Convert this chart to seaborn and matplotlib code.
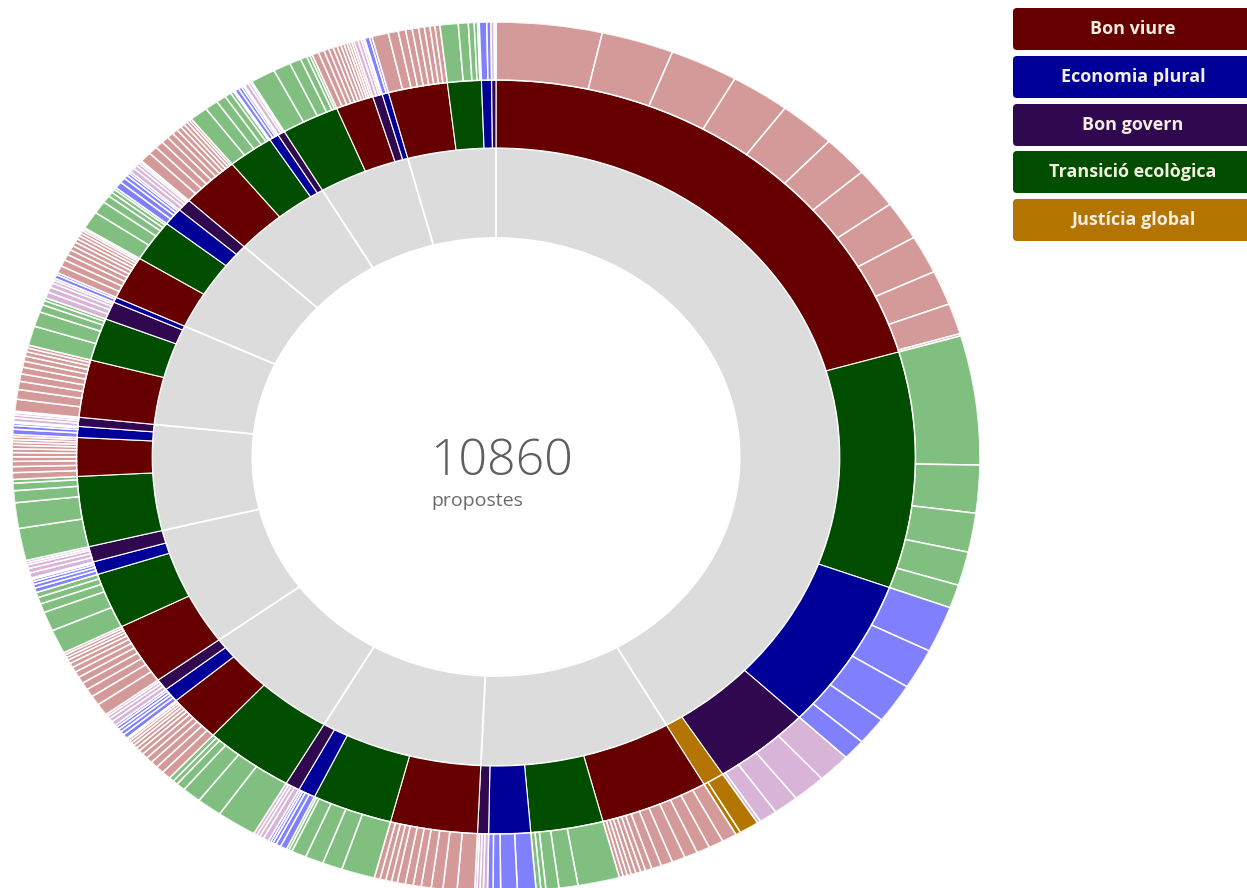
import numpy as np
import matplotlib
matplotlib.use("Agg")
import matplotlib.pyplot as plt
from matplotlib.patches import FancyBboxPatch
import seaborn as sns

# ---------------- data ----------------
TOTAL_LABEL = "10860"
SUBTITLE = "propostes"

categories = ["Bon viure", "Economia plural", "Bon govern",
              "Transició ecològica", "Justícia global"]
dark_colors = ["#660000", "#000099", "#300850", "#004d00", "#b37400"]
light_colors = ["#d49a9a", "#8080ff", "#d8b4d8", "#80bf80", "#b37400"]

# each inner (grey) segment: category -> proposal counts of its outer sub-slices
group_01 = {
    "Bon viure": [383, 262, 247, 214, 205, 169, 163, 157, 154, 139, 124, 9],
    "Transició ecològica": [520, 192, 157, 136, 94],
    "Economia plural": [187, 163, 160, 112, 84],
    "Bon govern": [121, 120, 91, 66, 12],
    "Justícia global": [72, 18],
}
group_02 = {
    "Bon viure": [54, 54, 48, 48, 48, 42, 36, 24, 18, 18, 17, 15, 15, 14],
    "Transició ecològica": [151, 69, 47, 18, 17],
    "Economia plural": [67, 60, 27, 20],
    "Bon govern": [15, 12, 11, 8],
}
group_03 = {
    "Bon viure": [63, 51, 42, 36, 29, 29, 29, 21, 21, 21, 21],
    "Transició ecològica": [121, 72, 66, 54, 12, 9],
    "Economia plural": [24, 18, 12, 9, 9],
    "Bon govern": [21, 15, 12, 12],
}
group_04 = {
    "Transició ecològica": [145, 91, 69, 33, 18, 18],
    "Bon viure": [33, 30, 27, 24, 21, 18, 15, 14, 12, 11, 9, 6],
    "Economia plural": [18, 15, 12, 12, 9],
    "Bon govern": [18, 15, 12, 9],
}
group_05 = {
    "Bon viure": [48, 39, 33, 30, 27, 24, 21, 18, 15, 12, 12, 9],
    "Transició ecològica": [97, 78, 36, 27, 21],
    "Economia plural": [18, 15, 12, 9, 6],
    "Bon govern": [21, 18, 15, 9, 9],
}
group_06 = {
    "Transició ecològica": [130, 103, 48, 30, 15],
    "Bon viure": [27, 24, 21, 18, 17, 15, 14, 12, 11, 11, 9],
    "Economia plural": [21, 15, 9, 6],
    "Bon govern": [15, 12, 9, 6],
}
group_07 = {
    "Bon viure": [48, 39, 33, 30, 27, 24, 21, 18, 15, 12],
    "Transició ecològica": [78, 60, 30, 18, 12],
    "Bon govern": [24, 21, 18, 12, 9],
    "Economia plural": [15, 9],
}
group_08 = {
    "Bon viure": [30, 27, 24, 21, 18, 17, 15, 14, 12, 11, 8, 6],
    "Transició ecològica": [72, 51, 30, 18, 15, 9],
    "Economia plural": [27, 21, 15, 11, 8],
    "Bon govern": [18, 15, 12, 8, 5],
}
group_09 = {
    "Bon viure": [42, 33, 30, 27, 24, 21, 18, 15, 14, 11, 9],
    "Transició ecològica": [66, 48, 36, 24, 12, 6],
    "Economia plural": [15, 12, 8, 5],
    "Bon govern": [15, 9, 6],
}
group_10 = {
    "Transició ecològica": [91, 63, 42, 24, 12, 9],
    "Bon viure": [24, 21, 18, 17, 15, 14, 12, 11, 9, 9, 8],
    "Bon govern": [15, 12, 8, 5],
    "Economia plural": [18, 9],
}
group_11 = {
    "Bon viure": [60, 36, 27, 24, 23, 21, 20, 18, 18],
    "Transició ecològica": [66, 36, 21, 12, 6],
    "Economia plural": [27, 15],
    "Bon govern": [12, 6],
}
groups = [group_01, group_02, group_03, group_04, group_05, group_06,
          group_07, group_08, group_09, group_10, group_11]

# ---------------- style ----------------
sns.set_theme(style="white")
plt.rcParams["font.family"] = ["Open Sans", "DejaVu Sans"]

dark_map = dict(zip(categories, dark_colors))
light_map = dict(zip(categories, light_colors))

W, H = 1247, 888
fig = plt.figure(figsize=(W / 100, H / 100), dpi=100)
fig.patch.set_facecolor("white")

ax = fig.add_axes([12 / W, -4 / H, 968 / W, 870 / H], projection="polar")
ax.set_aspect("auto")
ax.set_theta_zero_location("N")
ax.set_theta_direction(-1)

R0, R1, R2, R3 = 219, 309, 377, 435

grand_total = sum(sum(sum(v) for v in g.values()) for g in groups)
scale = 2 * np.pi / grand_total

inner_t, inner_w = [], []
mid_t, mid_w, mid_c = [], [], []
out_t, out_w, out_c = [], [], []
pos = 0
for g in groups:
    gstart = pos
    for cat, subs in g.items():
        cstart = pos
        for v in subs:
            out_t.append(pos * scale)
            out_w.append(v * scale)
            out_c.append(light_map[cat])
            pos += v
        mid_t.append(cstart * scale)
        mid_w.append((pos - cstart) * scale)
        mid_c.append(dark_map[cat])
    inner_t.append(gstart * scale)
    inner_w.append((pos - gstart) * scale)

ax.bar(inner_t, R1 - R0, width=inner_w, bottom=R0, align="edge",
       color="#dcdcdc", edgecolor="white", linewidth=1.3)
ax.bar(mid_t, R2 - R1, width=mid_w, bottom=R1, align="edge",
       color=mid_c, edgecolor="white", linewidth=0.8)
ax.bar(out_t, R3 - R2, width=out_w, bottom=R2, align="edge",
       color=out_c, edgecolor="white", linewidth=1.1)

ax.set_ylim(0, R3)
ax.set_axis_off()

# centre labels
fig.text(430 / W, 1 - 475 / H, TOTAL_LABEL, ha="left", va="baseline",
         fontsize=36, color="#5e5e5e", fontweight="light")
fig.text(431 / W, 1 - 506 / H, SUBTITLE, ha="left", va="baseline",
         fontsize=14, color="#6a6a6a")

# legend boxes
lax = fig.add_axes([1012 / W, 1 - 243 / H, 235 / W, 237 / H])
lax.set_xlim(0, 235)
lax.set_ylim(243, 6)
lax.set_axis_off()
legend_tops = [8, 56, 104, 151, 199]
for cat, col, top in zip(categories, dark_colors, legend_tops):
    box = FancyBboxPatch((1, top), 240, 42,
                         boxstyle="round,pad=0,rounding_size=4",
                         facecolor=col, edgecolor="none")
    lax.add_patch(box)
    lax.text(121, top + 21, cat, ha="center", va="center", fontsize=13,
             fontweight="bold", color="#f4eee0")

fig.savefig("out.png", dpi=100, facecolor="white")
